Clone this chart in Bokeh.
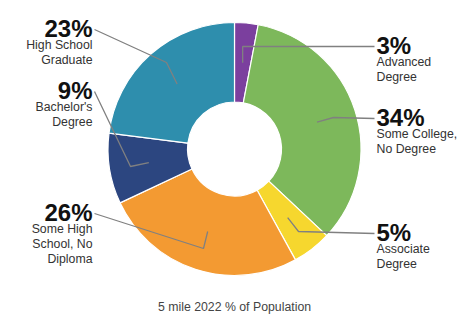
import math
from bokeh.plotting import figure
from bokeh.models import Range1d, ColumnDataSource
from bokeh.core.properties import value
from bokeh.embed import file_html
from bokeh.resources import INLINE

# ---- data ----
categories = ["Advanced Degree", "Some College, No Degree", "Associate Degree",
              "Some High School, No Diploma", "Bachelor's Degree", "High School Graduate"]
values = [3, 34, 5, 26, 9, 23]
label_lines = [["Advanced", "Degree"],
               ["Some College,", "No Degree"],
               ["Associate", "Degree"],
               ["Some High", "School, No", "Diploma"],
               ["Bachelor's", "Degree"],
               ["High School", "Graduate"]]
colors = ["#7B3F9E", "#7DB85B", "#F6D72E", "#F39A32", "#2C4680", "#2E8EAD"]
title_text = "5 mile 2022 % of Population"

# ---- layout (picture pixel positions) ----
label_side = ["right", "right", "right", "left", "left", "left"]
label_x = [376, 376, 376, 92, 92, 92]
label_base = [45, 117, 232, 212, 90, 28]
elbow = [None, (333, 117), (298, 231), (203, 248), (130, 166), (166, 62)]

W, H = 472, 315


def px(x):
    return x


def py(y):
    return H - y


p = figure(width=W, height=H, x_range=Range1d(0, W), y_range=Range1d(0, H),
           output_backend="svg", toolbar_location=None, min_border=0)
p.axis.visible = False
p.grid.visible = False
p.outline_line_color = None
p.background_fill_color = "white"
p.border_fill_color = "white"

cx, cy = px(234), py(148.5)
R_out, R_in = 126.5, 47.0
R_mid = (R_out + R_in) / 2

total = sum(values)
cum = 0
starts, ends, mids = [], [], []
for v in values:
    t0 = cum / total * 2 * math.pi
    cum += v
    t1 = cum / total * 2 * math.pi
    starts.append(math.pi / 2 - t0)
    ends.append(math.pi / 2 - t1)
    mids.append((t0 + t1) / 2)

src = ColumnDataSource(dict(start=starts, end=ends, color=colors, cat=categories))
p.annular_wedge(x=cx, y=cy, inner_radius=R_in, outer_radius=R_out,
                start_angle="start", end_angle="end", direction="clock",
                fill_color="color", line_color="white", line_width=1.2, source=src)

# leader lines
xs, ys = [], []
for i, m in enumerate(mids):
    ex = cx + R_mid * math.sin(m)
    ey = cy + R_mid * math.cos(m)
    if label_side[i] == "right":
        sx, sy = px(label_x[i] - 2), py(label_base[i] + 1)
    else:
        sx, sy = px(label_x[i] + 2), py(label_base[i] + 1)
    if elbow[i] is None:
        bx, by = ex, sy
    else:
        bx, by = px(elbow[i][0]), py(elbow[i][1])
    xs.append([sx, bx, ex])
    ys.append([sy, by, ey])
p.multi_line(xs=xs, ys=ys, line_color="#808080", line_width=1.3)

# labels
for side, align in (("right", "left"), ("left", "right")):
    tx, ty, tt = [], [], []
    lx, ly, lt = [], [], []
    for i in range(len(values)):
        if label_side[i] != side:
            continue
        tx.append(px(label_x[i]))
        ty.append(py(label_base[i]))
        tt.append(f"{values[i]}%")
        for k, line in enumerate(label_lines[i]):
            lx.append(px(label_x[i]))
            ly.append(py(label_base[i] + 16 + 15 * k))
            lt.append(line)
    p.text(x=tx, y=ty, text=tt, text_align=align, text_baseline="alphabetic",
           text_font=value("Liberation Sans"), text_font_style="bold",
           text_font_size="24px", text_color="#111111")
    p.text(x=lx, y=ly, text=lt, text_align=align, text_baseline="alphabetic",
           text_font=value("Liberation Sans"), text_font_size="12.3px",
           text_color="#333333")

p.text(x=[px(234)], y=[py(306)], text=[title_text], text_align="center",
       text_baseline="alphabetic", text_font=value("Liberation Sans"),
       text_font_size="12.3px", text_color="#444444")

open("out.html", "w").write(file_html(p, INLINE))
